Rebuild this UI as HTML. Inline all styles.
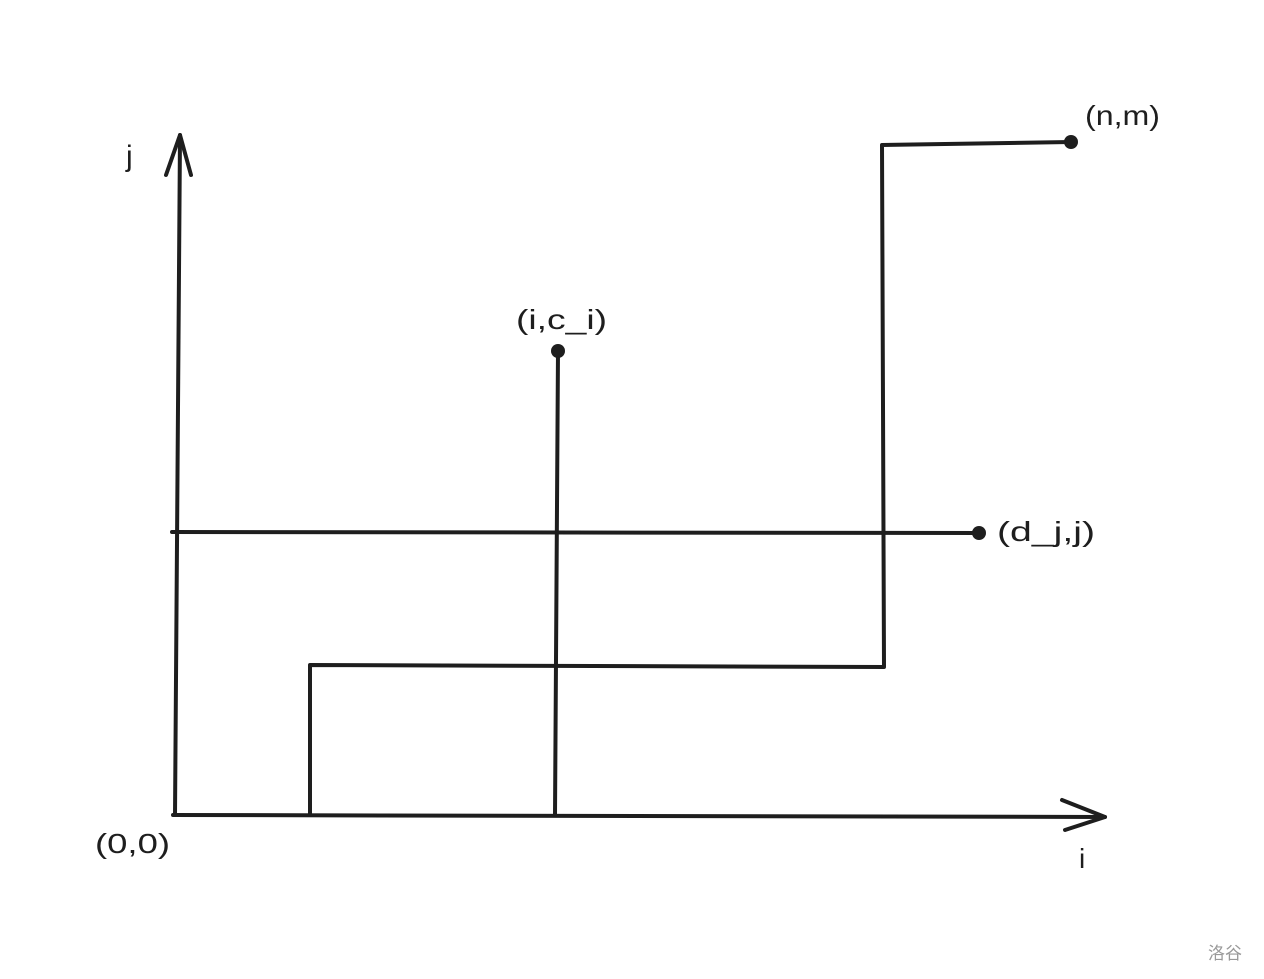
<!DOCTYPE html>
<html><head><meta charset="utf-8"><style>
html,body{margin:0;padding:0;background:#fff;width:1264px;height:979px;overflow:hidden}
svg{display:block}
text{font-family:"Liberation Sans","Noto Sans CJK SC",sans-serif;fill:#1e1e1e}
</style></head><body>
<svg width="1264" height="979" viewBox="0 0 1264 979" xmlns="http://www.w3.org/2000/svg">
<g stroke="#1e1e1e" stroke-width="4" fill="none" stroke-linecap="round" stroke-linejoin="round">
<path d="M175 815 L180 135"/>
<path d="M166 175 L180 135 L191 175"/>
<path d="M173 815 L1105 817"/>
<path d="M1062 800 L1105 817 L1065 830"/>
<path d="M310 815 L310 665 L884 667 L882 145 L1071 142"/>
<path d="M555 815 L558 351"/>
<path d="M172 532 L979 533"/>
</g>
<g fill="#1e1e1e">
<circle cx="1071" cy="142" r="7"/>
<circle cx="558" cy="351" r="7"/>
<circle cx="979" cy="533" r="7"/>
</g>
<text x="126" y="166" font-size="30">j</text>
<text x="1085" y="125" font-size="28" textLength="75" lengthAdjust="spacingAndGlyphs">(n,m)</text>
<text x="516" y="329" font-size="28" textLength="91" lengthAdjust="spacingAndGlyphs">(i,c_i)</text>
<text x="997" y="541" font-size="28" textLength="98" lengthAdjust="spacingAndGlyphs">(d_j,j)</text>
<text x="95" y="853" font-size="28" textLength="75" lengthAdjust="spacingAndGlyphs">(0,0)</text>
<text x="1079" y="868" font-size="28">i</text>
<text x="1208" y="959" font-size="17" style="fill:#999">洛谷</text>
</svg>
</body></html>
